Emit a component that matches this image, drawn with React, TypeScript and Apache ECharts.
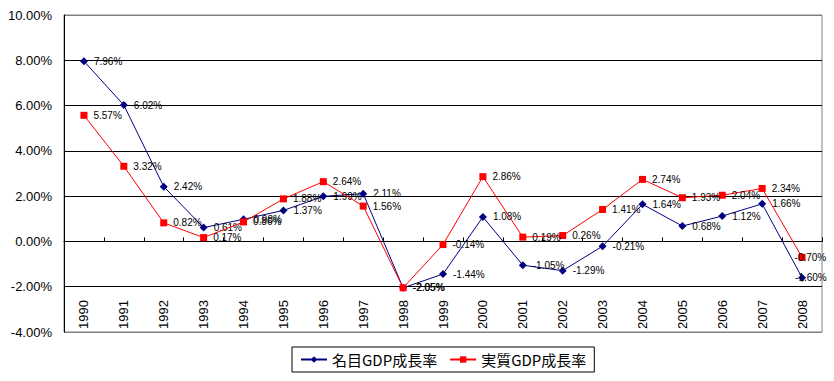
import React, { useEffect, useRef } from "react";
import * as echarts from "echarts";

const years = ["1990","1991","1992","1993","1994","1995","1996","1997","1998","1999","2000","2001","2002","2003","2004","2005","2006","2007","2008"];
const nominal = [7.96, 6.02, 2.42, 0.61, 0.98, 1.37, 1.99, 2.11, -2.05, -1.44, 1.08, -1.05, -1.29, -0.21, 1.64, 0.68, 1.12, 1.66, -1.60];
const real = [5.57, 3.32, 0.82, 0.17, 0.86, 1.88, 2.64, 1.56, -2.05, -0.14, 2.86, 0.19, 0.26, 1.41, 2.74, 1.93, 2.04, 2.34, -0.70];
const seriesNames = ["名目GDP成長率", "実質GDP成長率"];

const FONT = "'Liberation Sans', 'Noto Sans CJK JP', sans-serif";

// the last point's label is pulled left so that it stays inside the chart
const withEdgeLabel = (vals: number[]) =>
  vals.map((v, i) =>
    i === vals.length - 1 ? { value: v, label: { offset: [-17, 0] } } : v
  );

export default function App() {
  const ref = useRef<HTMLDivElement>(null);
  useEffect(() => {
    if (!ref.current) return;
    const chart = echarts.init(ref.current, undefined, { renderer: "svg" });
    const labelCfg = {
      show: true,
      position: "right" as const,
      distance: 6,
      color: "#000",
      fontSize: 10,
      fontFamily: FONT,
      formatter: (p: any) => Number(p.value).toFixed(2) + "%",
    };
    chart.setOption({
      animation: false,
      backgroundColor: "#fff",
      textStyle: { fontFamily: FONT },
      grid: {
        left: 64, right: 12, top: 15, bottom: 49,
        show: true, borderColor: "#808080", borderWidth: 1, backgroundColor: "transparent",
      },
      legend: {
        left: 292, top: 347,
        padding: [5, 8],
        itemGap: 12,
        itemWidth: 26,
        itemHeight: 8,
        borderColor: "#000",
        borderWidth: 1,
        textStyle: { fontSize: 15, color: "#000", fontFamily: "'Noto Sans CJK JP', sans-serif" },
        data: seriesNames,
      },
      xAxis: [
        {
          type: "category",
          data: years,
          boundaryGap: true,
          axisLine: { onZero: true, lineStyle: { color: "#000", width: 1 } },
          axisTick: { show: true, inside: true, length: 4, lineStyle: { color: "#000" } },
          axisLabel: { show: false },
          splitLine: { show: false },
        },
        {
          type: "category",
          data: years,
          position: "bottom",
          boundaryGap: true,
          axisLine: { show: false, onZero: false },
          axisTick: { show: false },
          axisLabel: { show: true, inside: true, rotate: 90, margin: 3, fontSize: 13, color: "#000", fontFamily: FONT },
          splitLine: { show: false },
        },
      ],
      yAxis: {
        type: "value",
        min: -4, max: 10, interval: 2,
        axisLine: { show: true, lineStyle: { color: "#000" } },
        axisTick: { show: false },
        axisLabel: { formatter: (v: number) => v.toFixed(2) + "%", fontSize: 13, color: "#000", margin: 12, fontFamily: FONT },
        splitLine: { show: true, lineStyle: { color: ["#808080", "#000", "#000", "#000", "#000", "#000", "#000", "#808080"], width: 1 } },
      },
      series: [
        {
          name: seriesNames[0],
          type: "line",
          data: withEdgeLabel(nominal),
          xAxisIndex: 0,
          symbol: "diamond",
          symbolSize: 8,
          itemStyle: { color: "#000080" },
          lineStyle: { color: "#000080", width: 1 },
          label: labelCfg,
          z: 2,
        },
        {
          name: seriesNames[1],
          type: "line",
          data: withEdgeLabel(real),
          xAxisIndex: 0,
          symbol: "rect",
          symbolSize: 7,
          itemStyle: { color: "#ff0000" },
          lineStyle: { color: "#ff0000", width: 1 },
          label: labelCfg,
          z: 3,
        },
      ],
    });
    return () => chart.dispose();
  }, []);
  return <div ref={ref} style={{ width: 834, height: 381, position: "absolute", left: 0, top: 0 }} />;
}
